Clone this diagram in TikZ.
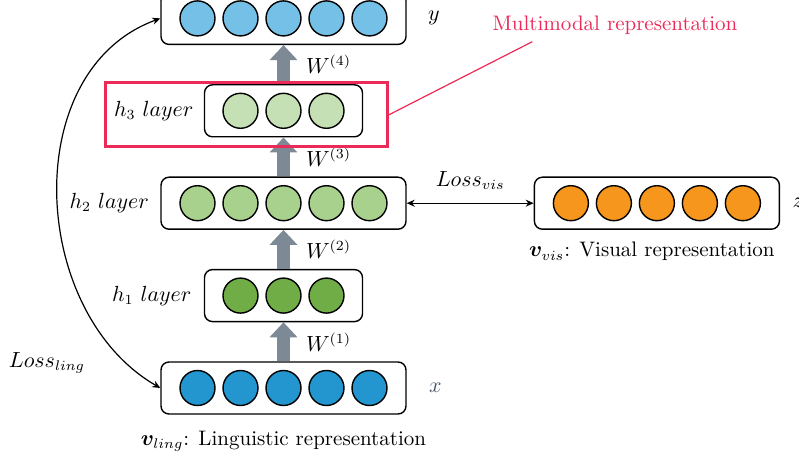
\documentclass[tikz,border=0pt]{standalone}
\usepackage{amsmath}
\usepackage{bm}
\usepackage{tikz}
\usetikzlibrary{arrows.meta, positioning, calc}
\definecolor{ylblue}{HTML}{74C0E6}
\definecolor{xdblue}{HTML}{2496CF}
\definecolor{hone}{HTML}{70AD47}
\definecolor{htwo}{HTML}{A9D18E}
\definecolor{hthree}{HTML}{C5E0B4}
\definecolor{visorange}{HTML}{F7961D}
\definecolor{mmred}{HTML}{EC2A58}
\definecolor{wgray}{HTML}{7D8A96}
\definecolor{slate}{HTML}{44546A}
\tikzset{
  layer/.style={
    rectangle, rounded corners=4pt, draw=black, line width=0.7pt,
    minimum width=#1, minimum height=26pt, inner sep=0pt
  },
  unit/.style={
    circle, draw=black, line width=0.7pt, fill=#1,
    minimum size=17.5pt, inner sep=0pt
  },
  warrow/.style={-{Triangle[width=13.5pt, length=7.5pt]}, line width=6.5pt, draw=wgray},
  wlabel/.style={anchor=west, inner sep=0pt, xshift=8pt},
  lossarrow/.style={{Stealth[length=4pt, width=3.5pt]}-{Stealth[length=4pt, width=3.5pt]},
    line width=0.6pt},
  tag/.style={inner sep=0pt}
}

\begin{document}
\begin{tikzpicture}[x=0.5pt, y=0.5pt, node distance=19.5pt,
    font=\fontsize{10.5}{12.6}\selectfont]
    \useasboundingbox (0,0) rectangle (799,456);
    % Capas
    \node[layer=122.5pt] (xin) at (283.5,68) {};
    \node[layer=79pt, above=of xin] (h1) {};
    \node[layer=122.5pt, above=of h1] (h2) {};
    \node[layer=79pt, above=of h2] (h3) {};
    \node[layer=122.5pt, above=of h3] (yout) {};
    \node[layer=122.5pt, right=63.5pt of h2] (zvis) {};

    % Neuronas
    \foreach \i in {1,...,5}{%
      \node[unit=xdblue] (xin\i) at ([xshift=(\i-3)*21.5pt]xin.center) {};
      \node[unit=htwo] (h2\i) at ([xshift=(\i-3)*21.5pt]h2.center) {};
      \node[unit=ylblue] (yout\i) at ([xshift=(\i-3)*21.5pt]yout.center) {};
      \node[unit=visorange] (zvis\i) at ([xshift=(\i-3)*21.5pt]zvis.center) {};}
    \foreach \i in {1,2,3}{%
      \node[unit=hone] (h1\i) at ([xshift=(\i-2)*21.5pt]h1.center) {};
      \node[unit=hthree] (h3\i) at ([xshift=(\i-2)*21.5pt]h3.center) {};}

    % Pesos
    \foreach \a/\b/\k in {xin/h1/1, h1/h2/2, h2/h3/3, h3/yout/4}{%
      \draw[warrow] (\a) -- (\b) node[wlabel, midway] {$W^{(\k)}$};}

    % Etiquetas
    \node[tag, left=5pt of h3] (h3lab) {$h_3\ layer$};
    \node[tag, left=5.5pt of h2] (h2lab) {$h_2\ layer$};
    \node[tag, left=6pt of h1] (h1lab) {$h_1\ layer$};
    \node[tag, right=10.5pt of yout] (ylab) {$y$};
    \node[tag, right=11pt of xin, text=slate] (xlab) {$x$};
    \node[tag, right=6pt of zvis] (zlab) {$z$};
    \node[tag, below=8pt of xin] (lingcap)
      {$\bm{v}_{ling}$: Linguistic representation};
    \node[tag, below=6pt of zvis, xshift=-2.5pt] (viscap)
      {$\bm{v}_{vis}$: Visual representation};

    % Perdidas
    \draw[lossarrow] (h2) -- (zvis) node[midway, above=6.5pt, tag] {$Loss_{vis}$};
    \draw[lossarrow] (xin.west) to[out=150, in=200, looseness=1.05] (yout.west);
    \node[tag] (lossling) at (47,93) {$Loss_{ling}$};

    % Representacion multimodal
    \node[draw=mmred, line width=1.5pt, minimum width=141pt, minimum height=32pt,
          inner sep=0pt] (mmbox) at (246,341) {};
    \node[tag, text=mmred] (mmtext) at (615,431) {Multimodal representation};
    \coordinate (mmtip) at ([xshift=20pt, yshift=-3.5pt]mmtext.south west);
    \draw[mmred, line width=0.6pt] (mmbox.east) -- (mmtip);
  \end{tikzpicture}
\end{document}
